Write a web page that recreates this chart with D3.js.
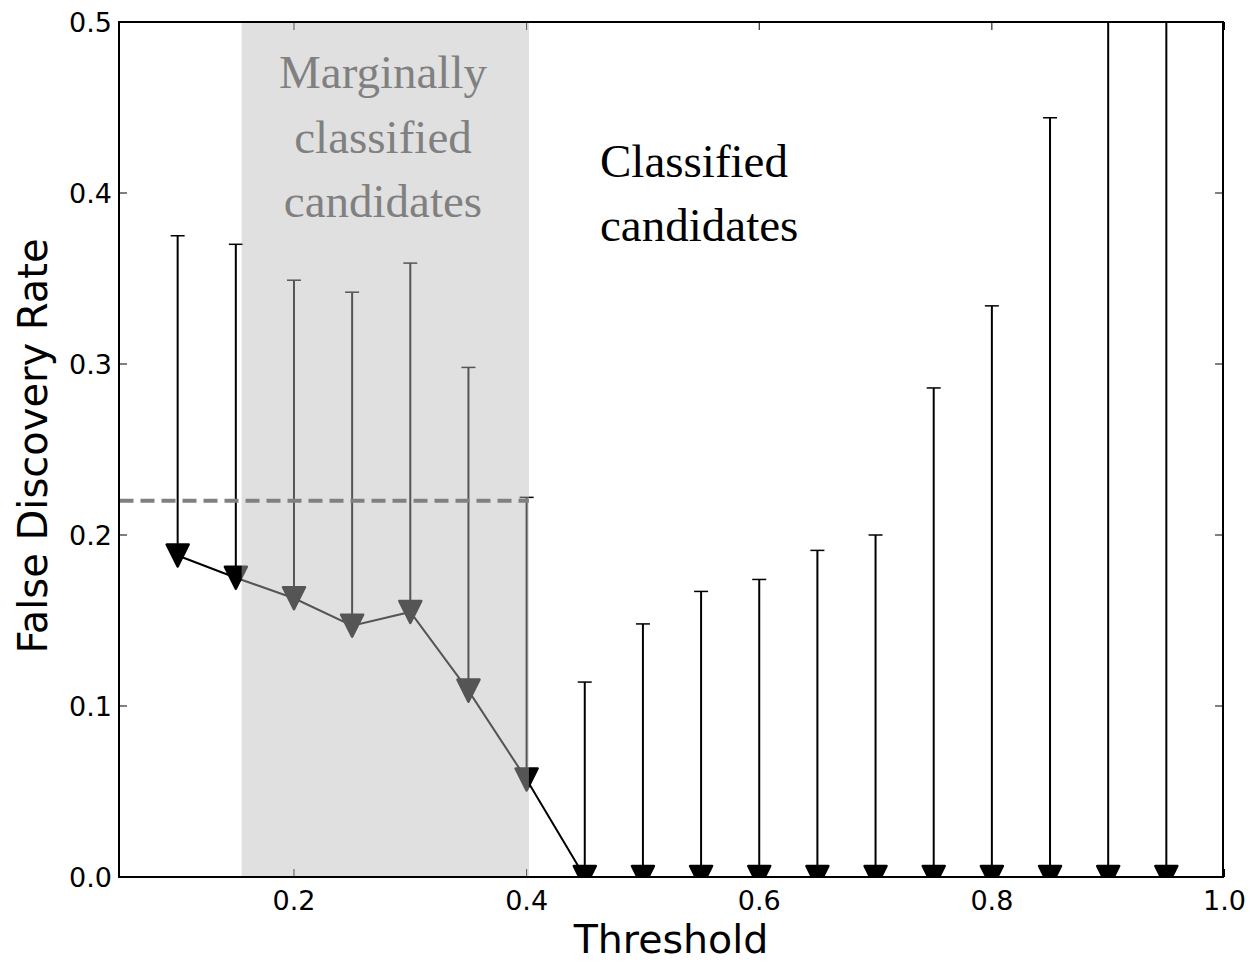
<!DOCTYPE html>
<html><head><meta charset="utf-8">
<script src="https://cdn.jsdelivr.net/npm/d3@7"></script>
<style>body{margin:0;background:#fff}</style>
</head><body>
<svg id="c" width="1253" height="963"></svg>
<script>
const thresholds = [0.10,0.15,0.20,0.25,0.30,0.35,0.40,0.45,0.50,0.55,0.60,0.65,0.70,0.75,0.80,0.85,0.90,0.95];
const fdr        = [0.188,0.175,0.163,0.147,0.155,0.109,0.057,0,0,0,0,0,0,0,0,0,0,0];
const fdrUpper   = [0.375,0.370,0.349,0.342,0.359,0.298,0.222,0.114,0.148,0.167,0.174,0.191,0.200,0.286,0.334,0.444,0.60,0.60];
const xTicks = [0.2,0.4,0.6,0.8,1.0];
const yTicks = [0.0,0.1,0.2,0.3,0.4,0.5];
const marginalSpan = [0.155,0.402];
const referenceLevel = 0.22;

const svg = d3.select("#c");
const L=119,R=1223,T=22,B=877;
const x = d3.scaleLinear().domain([0.05,1.0]).range([L+0.5,R+1.5]);
const y = d3.scaleLinear().domain([0,0.5]).range([B,T]);

svg.append("defs").append("clipPath").attr("id","clip")
  .append("rect").attr("x",L).attr("y",T).attr("width",R-L).attr("height",B-T);
const g = svg.append("g").attr("clip-path","url(#clip)");

// ticks (inward) on all sides
const tk = svg.append("g");
xTicks.forEach(v=>{
  tk.append("line").attr("x1",x(v)).attr("x2",x(v)).attr("y1",B).attr("y2",B-8).attr("stroke","#000");
  tk.append("line").attr("x1",x(v)).attr("x2",x(v)).attr("y1",T).attr("y2",T+8).attr("stroke","#000");
});
yTicks.forEach(v=>{
  tk.append("line").attr("y1",y(v)).attr("y2",y(v)).attr("x1",L).attr("x2",L+8).attr("stroke","#000");
  tk.append("line").attr("y1",y(v)).attr("y2",y(v)).attr("x1",R).attr("x2",R-8).attr("stroke","#000");
});

// error bars
thresholds.forEach((t,i)=>{
  g.append("line").attr("x1",x(t)).attr("x2",x(t)).attr("y1",y(fdr[i])).attr("y2",y(fdrUpper[i]))
   .attr("stroke","#000").attr("stroke-width",2);
  g.append("line").attr("x1",x(t)-7).attr("x2",x(t)+7).attr("y1",y(fdrUpper[i])).attr("y2",y(fdrUpper[i]))
   .attr("stroke","#000").attr("stroke-width",1.5);
});
// line
g.append("path").datum(thresholds.map((t,i)=>[t,fdr[i]]))
  .attr("d",d3.line().x(d=>x(d[0])).y(d=>y(d[1])))
  .attr("fill","none").attr("stroke","#000").attr("stroke-width",2);
// markers (down triangles)
const s=11;
thresholds.forEach((t,i)=>{
  const cx=x(t), cy=y(fdr[i]);
  g.append("path").attr("d",`M${cx-s},${cy-s}L${cx+s},${cy-s}L${cx},${cy+s}Z`)
   .attr("fill","#000").attr("stroke","#000").attr("stroke-width",2.5).attr("stroke-linejoin","round");
});

// shaded span (semi-transparent overlay)
svg.append("rect").attr("x",x(marginalSpan[0])).attr("y",T)
  .attr("width",x(marginalSpan[1])-x(marginalSpan[0])).attr("height",B-T)
  .attr("fill","rgb(187,187,187)").attr("fill-opacity",0.455);

// dashed reference line
svg.append("line").attr("x1",x(0.05)).attr("x2",x(marginalSpan[1])).attr("y1",y(referenceLevel)).attr("y2",y(referenceLevel))
  .attr("stroke","#808080").attr("stroke-width",4).attr("stroke-dasharray","14,7");

// frame
svg.append("rect").attr("x",L).attr("y",T).attr("width",R-L).attr("height",B-T)
  .attr("fill","none").attr("stroke","#000").attr("stroke-width",2);

// tick labels
const lab = svg.append("g").attr("font-family","DejaVu Sans").attr("font-size",27).attr("fill","#000");
xTicks.forEach(v=>{
  lab.append("text").attr("x",x(v)).attr("y",910).attr("text-anchor","middle").text(d3.format(".1f")(v));
});
yTicks.forEach(v=>{
  lab.append("text").attr("x",112).attr("y",y(v)+10).attr("text-anchor","end").text(d3.format(".1f")(v));
});

// axis titles
svg.append("text").attr("x",(L+R)/2).attr("y",953).attr("text-anchor","middle")
  .attr("font-family","DejaVu Sans").attr("font-size",39.5).text("Threshold");
svg.append("text").attr("transform",`translate(47,446) rotate(-90)`).attr("text-anchor","middle")
  .attr("font-family","DejaVu Sans").attr("font-size",40).text("False Discovery Rate");

// annotations
const serif = "'Liberation Serif','Times New Roman',Times,serif";
const mx = 383;
const ann = svg.append("text").attr("font-family",serif).attr("font-size",47).attr("fill","#808080").attr("text-anchor","middle");
["Marginally","classified","candidates"].forEach((t,i)=>ann.append("tspan").attr("x",mx).attr("y",88+i*64.5).text(t));
const ann2 = svg.append("text").attr("font-family",serif).attr("font-size",47).attr("fill","#000");
["Classified","candidates"].forEach((t,i)=>ann2.append("tspan").attr("x",600).attr("y",177+i*63.5).text(t));
</script>
</body></html>
